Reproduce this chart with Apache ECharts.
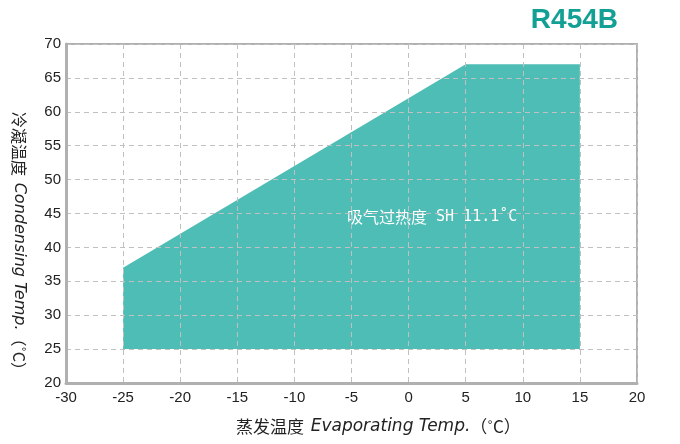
<!DOCTYPE html>
<html>
<head>
<meta charset="utf-8">
<script src="https://cdn.jsdelivr.net/npm/echarts@6/dist/echarts.min.js"></script>
<style>
  html, body { margin: 0; padding: 0; background: #fff; }
  #chart { width: 680px; height: 444px; }
</style>
</head>
<body>
<div id="chart"></div>
<script>
// operating envelope corners (evaporating temp, condensing temp)
var envEvap = [-25, -25, 5, 15, 15];
var envCond = [25, 37, 67, 67, 25];
var xTicks = [-30, 20, 5];   // min, max, interval
var yTicks = [20, 70, 5];
var areaLabel = ["吸气过热度", " SH 11.1˚C"];
var xName = ["蒸发温度", "Evaporating Temp.", "（˚C）"];
var yName = ["冷凝温度", "Condensing Temp.", "（˚C）"];
var refrigerant = "R454B";

var chartDom = document.getElementById("chart");
var myChart = echarts.init(chartDom);

var points = envEvap.map(function (x, i) { return [x, envCond[i]]; });

function nameText(parts) {
  return "{zh|" + parts[0] + "}  {en|" + parts[1] + "}{zh|" + parts[2] + "}";
}

var option = {
  animation: false,
  title: {
    text: refrigerant,
    right: 57,
    top: 1,
    textStyle: { color: "#12a094", fontSize: 28, fontWeight: "bold", fontFamily: "Liberation Sans" }
  },
  grid: {
    left: 66, right: 43, top: 44, bottom: 61,
    show: true, borderColor: "#b0b0b0", borderWidth: 2
  },
  xAxis: {
    type: "value",
    min: xTicks[0], max: xTicks[1], interval: xTicks[2],
    axisLine: { onZero: false, lineStyle: { color: "#b0b0b0", width: 3 } },
    axisTick: { show: false },
    axisLabel: { color: "#222", fontSize: 15, margin: 7 },
    splitLine: { lineStyle: { color: "#c0c0c0", type: [5, 4], width: 1 } }
  },
  yAxis: {
    type: "value",
    min: yTicks[0], max: yTicks[1], interval: yTicks[2],
    axisLine: { show: true, onZero: false, lineStyle: { color: "#b0b0b0", width: 3 } },
    axisTick: { show: false },
    axisLabel: { color: "#222", fontSize: 15, margin: 5 },
    splitLine: { lineStyle: { color: "#c0c0c0", type: [5, 4], width: 1 } }
  },
  series: [{
    type: "custom",
    z: -1,
    renderItem: function (params, api) {
      if (params.dataIndex !== 0) return;
      var pts = points.map(function (p) { return api.coord(p); });
      return {
        type: "polygon",
        shape: { points: pts },
        style: { fill: "#4dbdb5" }
      };
    },
    data: points
  }],
  graphic: [{
    type: "text",
    left: 347,
    top: 209,
    style: {
      text: "{zh|" + areaLabel[0] + "}{en|" + areaLabel[1] + "}",
      rich: {
        zh: { fill: "#fff", fontSize: 16, fontFamily: "Noto Sans CJK SC" },
        en: { fill: "#fff", fontSize: 15, fontFamily: "DejaVu Sans Mono" }
      }
    }
  }, {
    // x axis name
    type: "text",
    left: 236,
    top: 418,
    style: {
      text: nameText(xName),
      rich: {
        zh: { fill: "#222", fontSize: 17, fontFamily: "Noto Sans CJK SC" },
        en: { fill: "#222", fontSize: 17, fontStyle: "italic", fontFamily: "DejaVu Sans" }
      }
    }
  }, {
    // y axis name, rotated to read top to bottom
    type: "text",
    x: 27,
    y: 112,
    rotation: -Math.PI / 2,
    style: {
      text: nameText(yName),
      rich: {
        zh: { fill: "#222", fontSize: 16, fontFamily: "Noto Sans CJK SC" },
        en: { fill: "#222", fontSize: 16, fontStyle: "italic", fontFamily: "DejaVu Sans" }
      }
    }
  }]
};

option && myChart.setOption(option);
</script>
</body>
</html>
